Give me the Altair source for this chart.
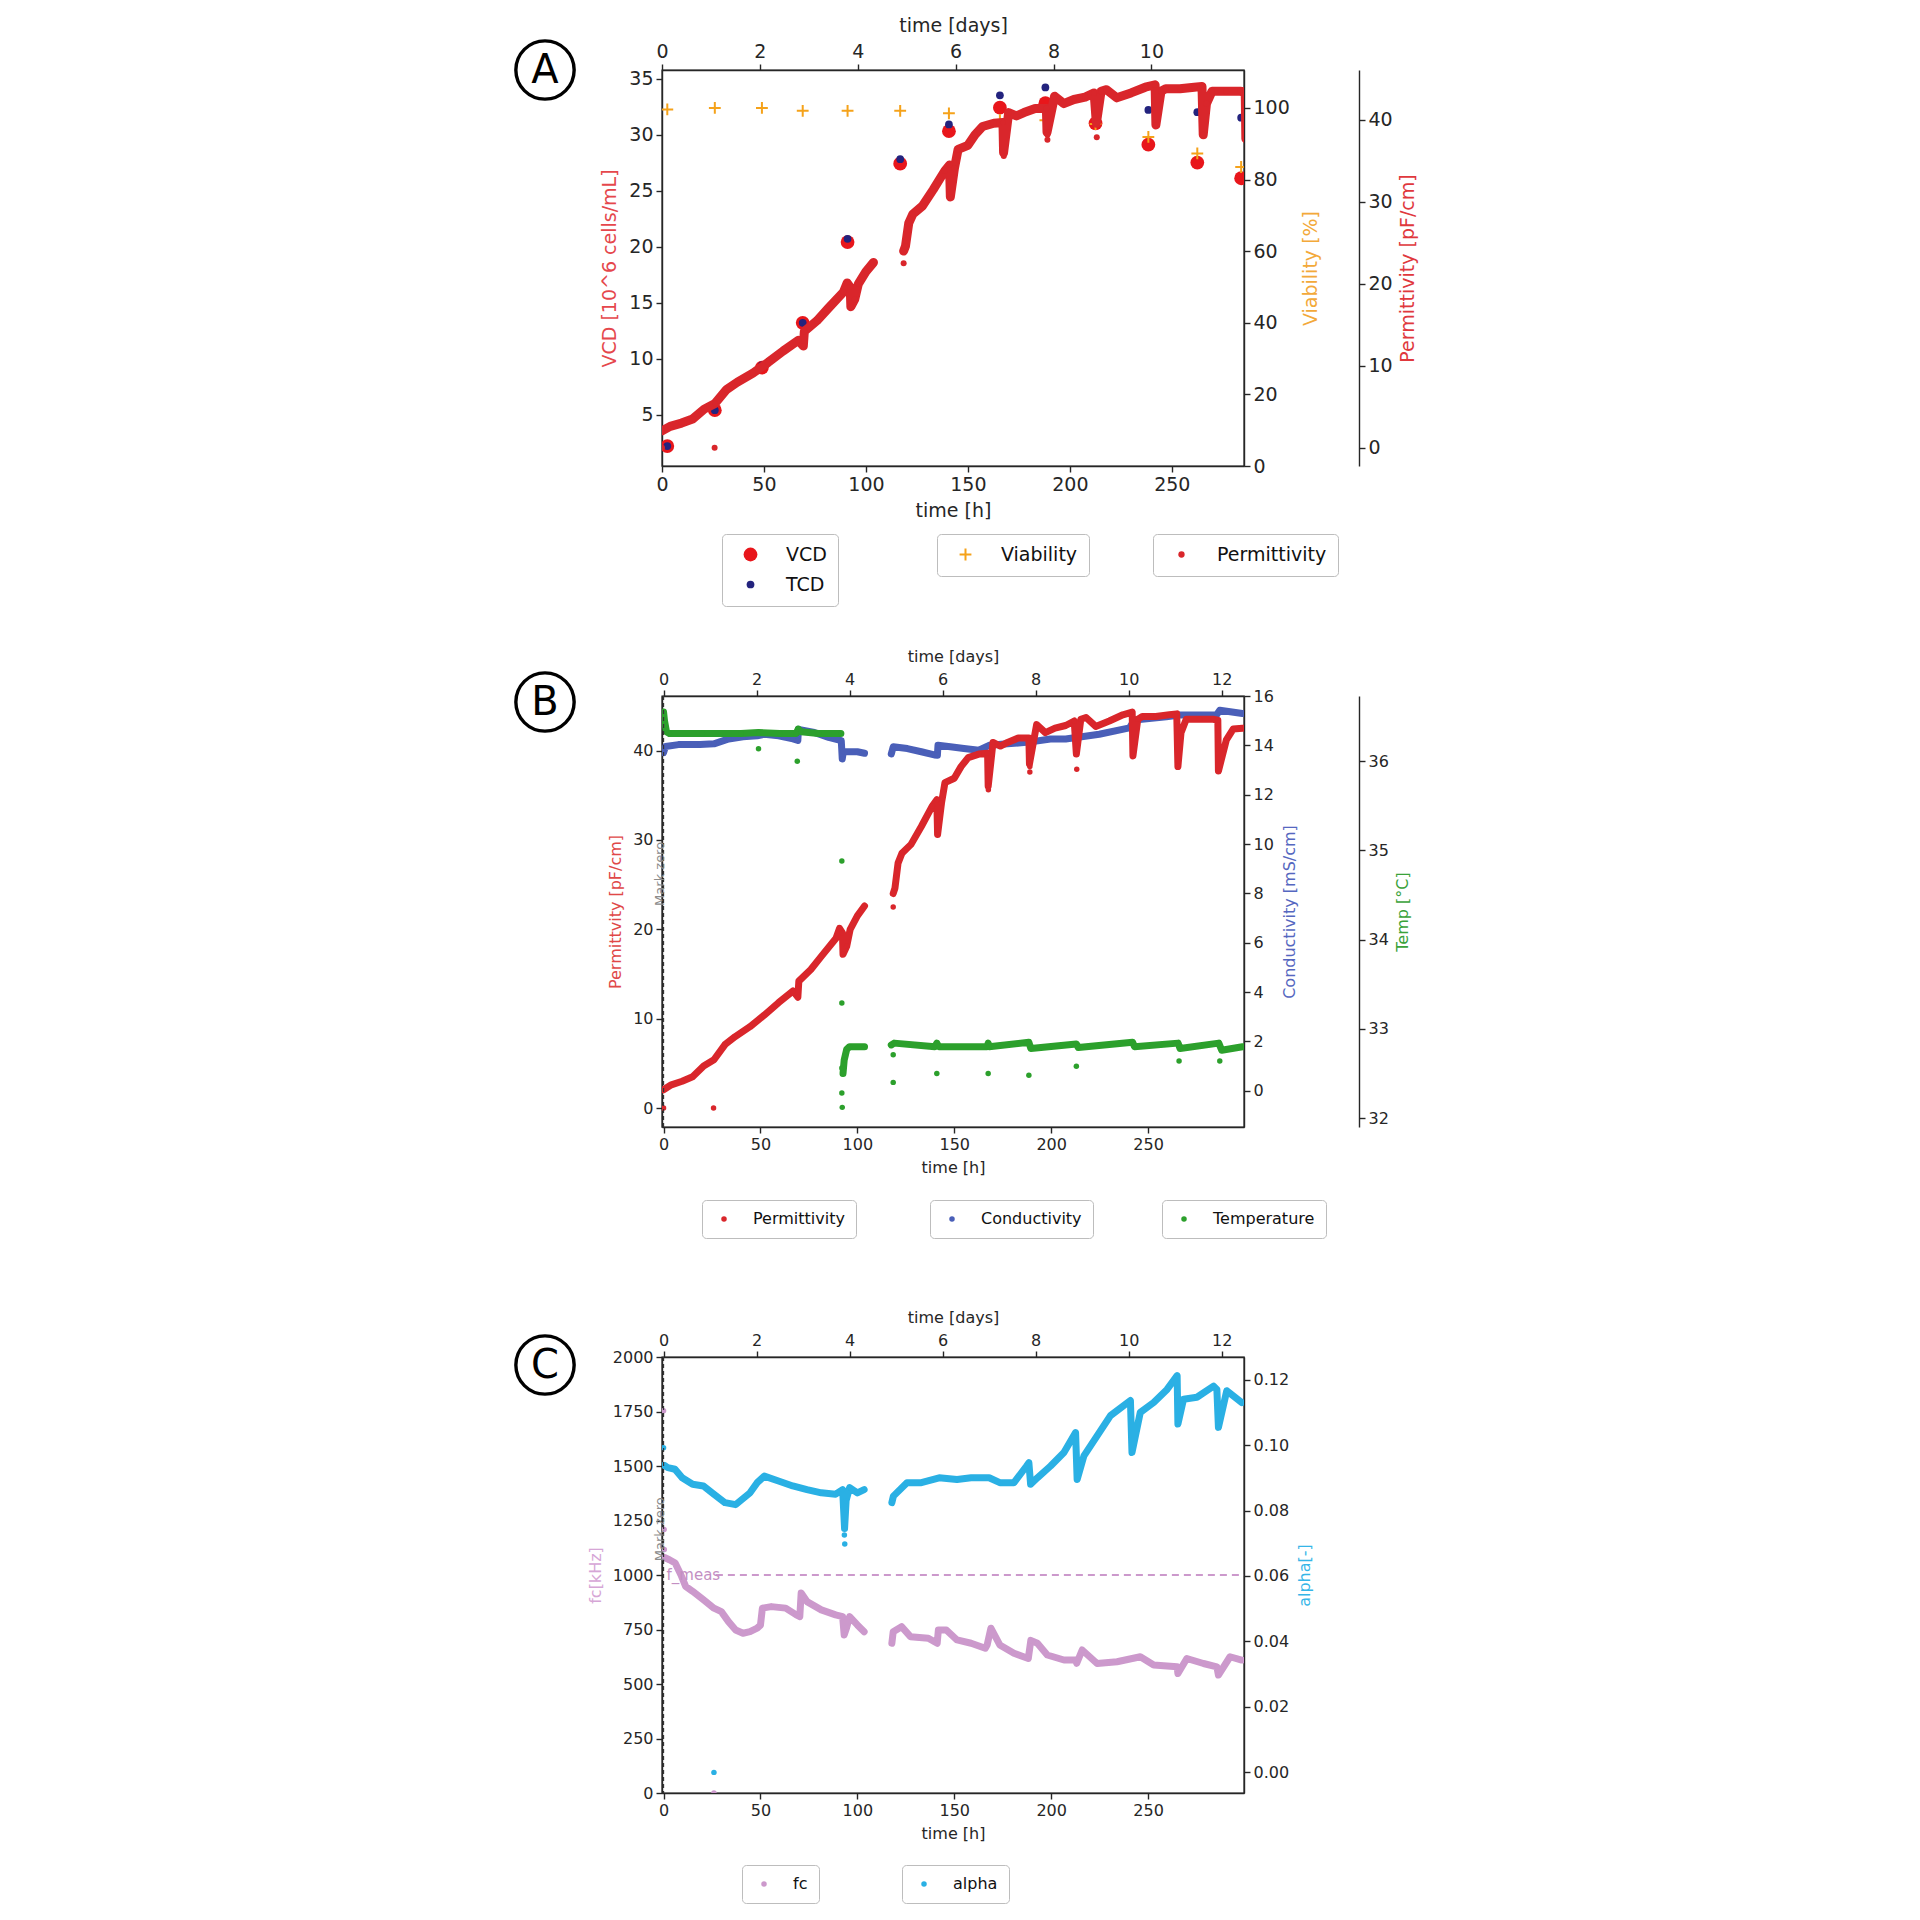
import altair as alt
import pandas as pd

# ---------------- Panel A : offline samples ----------------
a_sample_t = [2.6, 25.9, 49.0, 69.0, 91.0, 116.8, 140.7, 165.7, 188.0, 212.6, 238.5, 262.5, 284.0]
a_vcd = [2.2, 5.4, 9.2, 13.2, 20.4, 27.4, 30.3, 32.4, 32.8, 31.0, 29.1, 27.5, 26.1]
a_tcd = [2.2, 5.4, 9.4, 13.2, 20.7, 27.8, 30.9, 33.5, 34.2, 33.1, 32.2, 32.0, 31.5]
a_via = [99.6, 100.0, 100.0, 99.2, 99.2, 99.2, 98.5, 96.6, 96.6, 95.5, 91.9, 87.3, 83.5]

# ---------------- Online permittivity [pF/cm] ----------------
perm_s1_t = [0, 4, 9.6, 15, 20.7, 26, 31.7, 37, 44.6, 52, 59.4, 66.8, 69.3, 69.8, 76, 81.5, 89, 90.8,
             92.3, 92.6, 94.5, 96.3, 100, 103.7]
perm_s1_v = [2.05, 2.6, 3.0, 3.5, 4.7, 5.4, 7.1, 8.0, 9.1, 10.4, 11.8, 13.1, 12.4, 14.2, 15.5, 17.0, 19.0, 20.1,
             19.6, 17.2, 18.1, 20.0, 21.5, 22.6]
perm_s2_t = [118.5, 119.4, 121, 123, 127.7, 133, 138.7, 141, 141.4, 143.4, 145.2, 150, 153.5, 157.2, 162.7,
             167.2, 167.5, 170, 173.8, 177.5, 183, 188.5, 188.8, 192.5, 197, 202, 207.5, 211.9, 213, 215.3,
             218, 223, 230, 237, 241.8, 242.2, 244.7, 247, 254, 261, 264.8, 265.4, 267, 269.7, 276.6, 283.5,
             286, 286.3, 290.4, 293.9, 298.7]
perm_s2_v = [24.0, 24.6, 27.4, 28.5, 29.5, 31.5, 33.8, 34.5, 30.6, 34.1, 36.4, 36.9, 38.2, 39.2, 39.6,
             39.7, 36.0, 40.9, 40.5, 40.9, 41.4, 41.4, 38.5, 42.9, 42.0, 42.5, 42.8, 43.3, 39.6, 43.5,
             43.7, 42.7, 43.3, 44.0, 44.3, 39.4, 43.5, 43.8, 43.8, 44.0, 44.1, 38.2, 42.0, 43.5, 43.5, 43.5,
             43.4, 37.7, 41.2, 42.4, 42.5]
perm_out_t = [0, 25.8, 118.5, 167.6, 189.0, 189.0, 213.2]
perm_out_v = [0.0, 0.0, 22.5, 35.6, 37.6, 38.2, 37.9]

# ---------------- Conductivity [mS/cm] ----------------
cond_s1_t = [0, 1, 7.7, 18.8, 26, 33.6, 41, 48.3, 52, 59.4, 66.8, 69.3, 69.6, 77.8, 85.2, 91.7, 92.2, 92.8,
             94.5, 100, 103.7]
cond_s1_v = [13.7, 13.95, 14.03, 14.03, 14.06, 14.26, 14.35, 14.39, 14.45, 14.39, 14.26, 14.2, 14.65, 14.52,
             14.32, 14.19, 13.45, 13.75, 13.74, 13.74, 13.68]
cond_s2_t = [117.5, 118.5, 125.8, 133, 139.7, 141.3, 141.6, 148, 155, 162.7, 168, 177.5, 188.6, 199.6, 207.5,
             224.8, 240.4, 243, 259.4, 266.3, 276.6, 285.3, 287, 298.7]
cond_s2_v = [13.65, 13.94, 13.87, 13.74, 13.61, 13.6, 14.0, 13.94, 13.87, 13.8, 14.0, 14.06, 14.13, 14.26,
             14.26, 14.45, 14.71, 15.03, 15.16, 15.23, 15.23, 15.23, 15.42, 15.29]

# ---------------- Temperature [°C] ----------------
temp_s1_t = [0, 0.5, 1.5, 3, 20, 40, 49, 60, 68.5, 69.5, 71, 80, 91.5]
temp_s1_v = [36.55, 36.45, 36.33, 36.31, 36.31, 36.31, 36.32, 36.31, 36.31, 36.36, 36.33, 36.31, 36.31]
temp_s2_t = [92.6, 93.2, 94.5, 96, 103.7]
temp_s2_v = [32.5, 32.65, 32.77, 32.8, 32.8]
temp_s3_t = [117.5, 119, 140, 141, 142, 167, 167.5, 168, 188.5, 189.5, 213, 214, 242, 243, 265.5, 266.5,
             286.5, 288, 298.7]
temp_s3_v = [32.82, 32.84, 32.80, 32.84, 32.80, 32.80, 32.84, 32.80, 32.85, 32.78, 32.83, 32.79, 32.85,
             32.80, 32.84, 32.78, 32.84, 32.76, 32.80]
temp_out_t = [49, 69, 92, 92, 92, 92, 92.2, 118.5, 118.5, 141, 167.5, 188.5, 213, 266, 287]
temp_out_v = [36.14, 36.0, 34.88, 33.29, 32.56, 32.28, 32.12, 32.71, 32.4, 32.5, 32.5, 32.48, 32.58, 32.64, 32.64]

# ---------------- fc [kHz] ----------------
fc_s1_t = [0.5, 3, 6, 9, 11.4, 15, 20.6, 26, 29.8, 33.5, 37.2, 41, 44.6, 48.3, 50, 51, 55.6, 63, 68.5, 70.3,
           71, 74, 81.4, 88.8, 92.4, 93.2, 94.5, 96, 100, 103.5]
fc_s1_v = [1080, 1070, 1055, 1000, 948, 925, 886, 848, 832, 786, 748, 733, 740, 756, 770, 848, 855, 848, 817,
           809, 917, 878, 840, 817, 809, 725, 760, 809, 771, 740]
fc_s2_t = [117.8, 118.5, 122.8, 127.4, 136.6, 141.2, 141.8, 145.9, 151.4, 158.7, 166, 167, 168.9, 173.5,
           180.8, 188.2, 189.5, 192.9, 198, 206.6, 212.6, 213.2, 216, 223.7, 234, 246, 252.9, 265, 265.4, 270,
           278.6, 285.5, 286.3, 292.3, 298.3]
fc_s2_v = [687, 740, 763, 717, 710, 687, 748, 748, 702, 687, 664, 680, 756, 679, 641, 617, 700, 687, 633, 610,
           610, 595, 656, 594, 602, 625, 587, 579, 548, 617, 594, 579, 541, 625, 610]
fc_out_t = [0, 0.3, 0.4, 26]
fc_out_v = [1754, 1209, 1117, 0]

# ---------------- alpha [-] ----------------
al_s1_t = [0.3, 2.2, 5.9, 9.6, 15, 20.6, 26, 31.7, 37.2, 44.6, 48.3, 52, 59.3, 66.7, 74, 81.4, 88.8, 92.4,
           93.4, 94.2, 96, 100, 103.5]
al_s1_v = [0.0938, 0.0931, 0.0926, 0.090, 0.088, 0.0875, 0.085, 0.0824, 0.0818, 0.0854, 0.0885, 0.0905, 0.089,
           0.0875, 0.0864, 0.0854, 0.085, 0.0864, 0.0745, 0.083, 0.087, 0.0854, 0.0864]
al_s2_t = [117.8, 118.6, 125.6, 133, 142.2, 151.4, 158.7, 168, 173.5, 180.8, 187.3, 188.5, 189.4, 192.9, 199.7,
           206.6, 212.6, 213.4, 216.9, 223.7, 230.6, 240.9, 241.7, 246, 252.9, 259.8, 265, 265.4, 268.3, 275.2,
           283.8, 285.5, 286.3, 290.6, 298.3]
al_s2_v = [0.0824, 0.0844, 0.0885, 0.0885, 0.090, 0.0895, 0.090, 0.090, 0.0885, 0.0885, 0.0936, 0.0946, 0.0880,
           0.090, 0.0936, 0.0977, 0.1038, 0.0895, 0.0967, 0.1028, 0.109, 0.1136, 0.0977, 0.11, 0.113, 0.117,
           0.1212, 0.1064, 0.114, 0.1146, 0.118, 0.117, 0.1054, 0.1166, 0.113]
al_out_t = [0, 26, 93.5, 93.3]
al_out_v = [0.0992, 0.0, 0.0698, 0.0725]

# annotations
panel_letters = ["A", "B", "C"]
mark_zero_label = "Mark zero"
f_meas_label = "f_meas"
f_meas_value = 1000
f_meas_span = [27.0, 299.5]

FONT = "DejaVu Sans"
INK = "#262626"
C_VCD, C_TCD, C_VIA, C_PERM = "#e8161b", "#23237e", "#f5a21a", "#d9262b"
C_COND, C_TEMP, C_FC, C_AL = "#4a5fb8", "#2ca02c", "#cc99cc", "#2ab0e4"
PLUS = "M-1,0L1,0M0,-1L0,1"


def make_df(segs, outs=None):
    rows, k = [], 0
    for i, (ts, vs) in enumerate(segs):
        assert len(ts) == len(vs)
        for t, v in zip(ts, vs):
            rows.append(dict(t=t, v=v, seg=f"s{i}", i=k)); k += 1
    if outs:
        ts, vs = outs
        assert len(ts) == len(vs)
        for t, v in zip(ts, vs):
            rows.append(dict(t=t, v=v, seg="out", i=k)); k += 1
    return pd.DataFrame(rows)


def ax(fs, **kw):
    base = dict(labelFontSize=fs, titleFontSize=fs, labelFont=FONT, titleFont=FONT,
                titleFontWeight="normal", labelColor=INK, titleColor=INK, domainColor=INK,
                tickColor=INK, domainWidth=1.4, tickWidth=1.4, tickSize=6, grid=False,
                labelPadding=3, titlePadding=7, labelFlush=False, labelOverlap=False)
    base.update(kw)
    return alt.Axis(**base)


def sc(dom):
    return alt.Scale(domain=dom, nice=False, zero=False)


def leg(x, y, fs, **kw):
    base = dict(title=None, orient="none", legendX=x, legendY=y, strokeColor="#bdbdbd",
                fillColor="white", cornerRadius=4, padding=11, labelFontSize=fs, labelFont=FONT,
                labelColor="#111111", labelOffset=26, symbolOffset=8, rowPadding=10)
    base.update(kw)
    return alt.Legend(**base)


def line(df, color, xdom, ydom, yaxis=None, xaxis=None, sw=7):
    return alt.Chart(df).transform_filter("datum.seg != 'out'").mark_line(
        color=color, strokeWidth=sw, strokeCap="round", strokeJoin="round", clip=True
    ).encode(
        x=alt.X("t:Q", scale=sc(xdom), axis=xaxis),
        y=alt.Y("v:Q", scale=sc(ydom), axis=yaxis),
        detail="seg:N", order="i:Q")


def pts(df, name, color, xdom, ydom, size, legend):
    return alt.Chart(df).transform_calculate(series=f"'{name}'").mark_circle(
        size=size, opacity=1, clip=True
    ).encode(
        x=alt.X("t:Q", scale=sc(xdom), axis=None),
        y=alt.Y("v:Q", scale=sc(ydom), axis=None),
        color=alt.Color("series:N", scale=alt.Scale(domain=[name], range=[color]), legend=legend))


def days_layer(df, xdom, fs, values):
    return alt.Chart(df).transform_calculate(d="datum.t / 24").mark_point(opacity=0).encode(
        x=alt.X("d:Q", scale=sc([xdom[0] / 24, xdom[1] / 24]),
                axis=ax(fs, orient="top", title="time [days]", values=values, format="d")),
        y=alt.value(0))


def letter(ch, yv, xv=-117):
    d = pd.DataFrame({"lab": [ch]})
    c = alt.Chart(d).mark_point(shape="circle", filled=False, size=3400, strokeWidth=3.4,
                                color="black", opacity=1).encode(x=alt.value(xv), y=alt.value(yv))
    t = alt.Chart(d).mark_text(font=FONT, fontSize=40, color="black", baseline="middle",
                               align="center", dy=1).encode(x=alt.value(xv), y=alt.value(yv), text="lab:N")
    return [c, t]


def mark_zero(xdom, ydom, yv):
    r = alt.Chart(pd.DataFrame({"t": [0.0]})).mark_rule(
        strokeDash=[4, 3], color="#333333", strokeWidth=1.2).encode(
        x=alt.X("t:Q", scale=sc(xdom), axis=None))
    tx = alt.Chart(pd.DataFrame({"t": [0.0], "v": [yv], "lab": [mark_zero_label]})).mark_text(
        angle=270, font=FONT, fontSize=13, color="#8c8c8c", baseline="middle", dy=-4).encode(
        x=alt.X("t:Q", scale=sc(xdom), axis=None),
        y=alt.Y("v:Q", scale=sc(ydom), axis=None), text="lab:N")
    return [r, tx]


RES = dict(x="independent", y="independent", color="independent", size="independent", shape="independent")

perm_df = make_df([(perm_s1_t, perm_s1_v), (perm_s2_t, perm_s2_v)], (perm_out_t, perm_out_v))
cond_df = make_df([(cond_s1_t, cond_s1_v), (cond_s2_t, cond_s2_v)])
temp_df = make_df([(temp_s1_t, temp_s1_v), (temp_s2_t, temp_s2_v), (temp_s3_t, temp_s3_v)],
                  (temp_out_t, temp_out_v))
fc_df = make_df([(fc_s1_t, fc_s1_v), (fc_s2_t, fc_s2_v)], (fc_out_t, fc_out_v))
al_df = make_df([(al_s1_t, al_s1_v), (al_s2_t, al_s2_v)], (al_out_t, al_out_v))

# ================= Panel A =================
FA = 19
xA = [0, 285.4]
yVCD = [0.42, 35.76]
yVIA = [0, 110.6]
yPA = [-2.24, 46.1]
vcd_df = pd.DataFrame({"t": a_sample_t, "VCD": a_vcd, "TCD": a_tcd})
via_df = pd.DataFrame({"t": a_sample_t, "via": a_via})

legA1 = leg(60, 464, FA)
vcd_layer = alt.Chart(vcd_df).transform_fold(["VCD", "TCD"], as_=["key", "val"]).mark_circle(
    opacity=1, clip=True).encode(
    x=alt.X("t:Q", scale=sc(xA), axis=ax(FA, orient="bottom", title="time [h]",
                                         values=[0, 50, 100, 150, 200, 250])),
    y=alt.Y("val:Q", scale=sc(yVCD), axis=ax(FA, orient="left", title="VCD [10^6 cells/mL]",
                                             values=[5, 10, 15, 20, 25, 30, 35], titleColor="#e5474c",
                                             titlePadding=9)),
    color=alt.Color("key:N", scale=alt.Scale(domain=["VCD", "TCD"], range=[C_VCD, C_TCD]), legend=legA1),
    size=alt.Size("key:N", scale=alt.Scale(domain=["VCD", "TCD"], range=[190, 60]), legend=legA1))

legA2 = leg(275, 464, FA, symbolStrokeWidth=2, symbolSize=140)
via_layer = alt.Chart(via_df).transform_calculate(series="'Viability'").mark_point(
    filled=False, size=140, strokeWidth=2, opacity=1, clip=True).encode(
    x=alt.X("t:Q", scale=sc(xA), axis=None),
    y=alt.Y("via:Q", scale=sc(yVIA), axis=ax(FA, orient="right", title="Viability [%]",
                                             values=[0, 20, 40, 60, 80, 100], titleColor="#f3a93a",
                                             titleAngle=270, titleBaseline="top", titlePadding=12)),
    color=alt.Color("series:N", scale=alt.Scale(domain=["Viability"], range=[C_VIA]), legend=legA2),
    shape=alt.Shape("series:N", scale=alt.Scale(domain=["Viability"], range=[PLUS]), legend=legA2))

permA_line = line(perm_df, C_PERM, xA, yPA, sw=9,
                  yaxis=ax(FA, orient="right", offset=115, title="Permittivity [pF/cm]",
                           values=[0, 10, 20, 30, 40], titleColor="#e0383d", titleAngle=270,
                           titleBaseline="top", titlePadding=6))
permA_pts = pts(perm_df, "Permittivity", C_PERM, xA, yPA, 36, leg(491, 464, FA, symbolSize=40))

panelA = alt.layer(days_layer(perm_df, xA, FA, [0, 2, 4, 6, 8, 10]), vcd_layer, via_layer,
                   permA_line, permA_pts, *letter(panel_letters[0], 0)
                   ).resolve_scale(**RES).properties(width=582, height=396)

# ================= Panel B =================
FB = 16
xB = [-0.8, 299.5]
yPB = [-2.12, 46.1]
yC = [-1.47, 16]
yT = [31.9, 36.73]
SMALL_LEG = dict(symbolSize=30, symbolOffset=3, labelOffset=21)

cond_line = line(cond_df, C_COND, xB, yC,
                 xaxis=ax(FB, orient="bottom", title="time [h]", values=[0, 50, 100, 150, 200, 250]),
                 yaxis=ax(FB, orient="right", title="Conductivity [mS/cm]",
                          values=[0, 2, 4, 6, 8, 10, 12, 14, 16], titleColor="#5567c0",
                          titleAngle=270, titleBaseline="top", titlePadding=8))
cond_pts = pts(cond_df, "Conductivity", C_COND, xB, yC, 30, leg(268, 504, FB, **SMALL_LEG))
permB_line = line(perm_df, C_PERM, xB, yPB,
                  yaxis=ax(FB, orient="left", title="Permittvity [pF/cm]", values=[0, 10, 20, 30, 40],
                           titleColor="#e04848", titlePadding=9))
permB_pts = pts(perm_df, "Permittivity", C_PERM, xB, yPB, 30, leg(40, 504, FB, **SMALL_LEG))
temp_line = line(temp_df, C_TEMP, xB, yT,
                 yaxis=ax(FB, orient="right", offset=115, title="Temp [°C]", values=[32, 33, 34, 35, 36],
                          titleColor="#3aa23a", titleAngle=270, titleBaseline="top", titlePadding=6))
temp_pts = pts(temp_df, "Temperature", C_TEMP, xB, yT, 30, leg(500, 504, FB, **SMALL_LEG))

panelB = alt.layer(days_layer(perm_df, xB, FB, [0, 2, 4, 6, 8, 10, 12]), cond_line, cond_pts,
                   permB_line, permB_pts, temp_line, temp_pts, *mark_zero(xB, yPB, 26.2),
                   *letter(panel_letters[1], 6)
                   ).resolve_scale(**RES).properties(width=582, height=431)

# ================= Panel C =================
FC = 16
xC = [-0.8, 299.5]
yFC = [0, 2000]
yAL = [-0.0063, 0.1269]

fc_line = line(fc_df, C_FC, xC, yFC,
               xaxis=ax(FC, orient="bottom", title="time [h]", values=[0, 50, 100, 150, 200, 250]),
               yaxis=ax(FC, orient="left", title="fc[kHz]", values=list(range(0, 2001, 250)), format="d",
                        titleColor="#d6a6d6", titlePadding=9))
fc_pts = pts(fc_df, "fc", C_FC, xC, yFC, 30, leg(80, 508, FC, **SMALL_LEG))
al_line = line(al_df, C_AL, xC, yAL,
               yaxis=ax(FC, orient="right", title="alpha[-]", values=[0, 0.02, 0.04, 0.06, 0.08, 0.10, 0.12],
                        format=".2f", titleColor="#35b5e8", titleAngle=270, titleBaseline="top",
                        titlePadding=8))
al_pts = pts(al_df, "alpha", C_AL, xC, yAL, 30, leg(240, 508, FC, **SMALL_LEG))

fmeas_rule = alt.Chart(pd.DataFrame({"t0": [f_meas_span[0]], "t1": [f_meas_span[1]],
                                     "v": [f_meas_value]})).mark_rule(
    strokeDash=[7, 5], strokeWidth=2, color=C_FC).encode(
    x=alt.X("t0:Q", scale=sc(xC), axis=None), x2="t1:Q",
    y=alt.Y("v:Q", scale=sc(yFC), axis=None))
fmeas_text = alt.Chart(pd.DataFrame({"t": [0.0], "v": [f_meas_value], "lab": [f_meas_label]})).mark_text(
    font=FONT, fontSize=15, color="#c38fc3", align="left", baseline="middle", dx=3).encode(
    x=alt.X("t:Q", scale=sc(xC), axis=None),
    y=alt.Y("v:Q", scale=sc(yFC), axis=None), text="lab:N")

panelC = alt.layer(days_layer(fc_df, xC, FC, [0, 2, 4, 6, 8, 10, 12]), fc_line, fc_pts, al_line, al_pts,
                   fmeas_rule, fmeas_text, *mark_zero(xC, yFC, 1210), *letter(panel_letters[2], 8)
                   ).resolve_scale(**RES).properties(width=582, height=436)

chart = alt.vconcat(panelA, panelB, panelC, spacing=230, bounds="flush").properties(
    autosize=alt.AutoSizeParams(type="none"),
    padding={"left": 662, "top": 70, "right": 668, "bottom": 1850},
    background="white",
).configure_view(stroke=INK, strokeWidth=1.4)

chart.save("out.html", embed_options={"renderer": "svg", "actions": False})
